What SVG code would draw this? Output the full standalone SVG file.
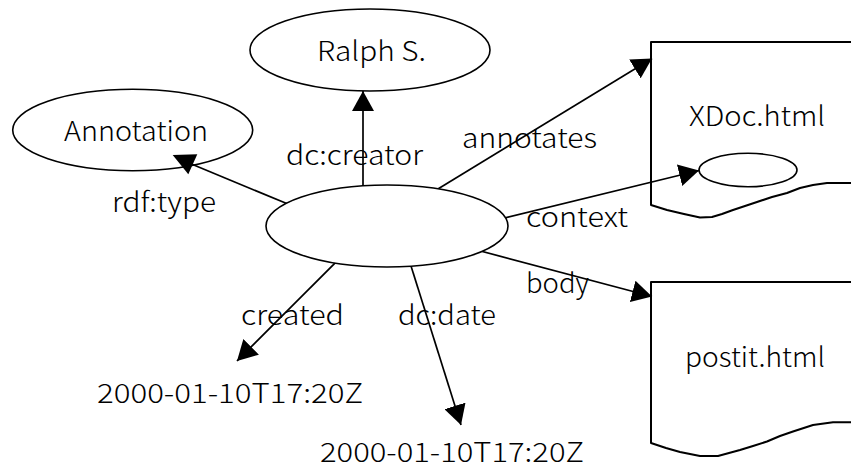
<svg xmlns="http://www.w3.org/2000/svg" width="851" height="473" viewBox="0 0 851 473">
  <defs>
    <style>
      .bg { fill: #ffffff; }
      .node { fill: #ffffff; stroke: #000000; stroke-width: 1.6; }
      .doc { fill: #ffffff; stroke: #000000; stroke-width: 2; stroke-linejoin: round; }
      .edge { fill: none; stroke: #000000; stroke-width: 1.7; }
      .arrowed { marker-end: url(#arrow); }
      .head { fill: #000000; }
      text { font-family: "Noto Sans CJK JP", "Liberation Sans", sans-serif; font-size: 27px; font-weight: 300; fill: #000000; }
    </style>
    <marker id="arrow" viewBox="0 0 20 22" refX="20" refY="11" markerWidth="20" markerHeight="22" markerUnits="userSpaceOnUse" orient="auto">
      <path d="M0,0 L20,11 L0,22 z" fill="#000000"/>
    </marker>
  </defs>

  <rect class="bg" x="0" y="0" width="851" height="473"/>

  <!-- web documents (torn-edge pages running off the right side) -->
  <g id="node-xdoc">
    <path class="doc" d="M851,42 L651,42 L651,205 L667,210 L684,214 L700,217.5 L712,217 L722,214 L733,210 L745,206 L757,202 L772,197 L787,193 L800,188 L813,185 L827,183 L851,183"/>
    <text x="689" y="126" textLength="136" lengthAdjust="spacingAndGlyphs">XDoc.html</text>
  </g>
  <g id="node-postit">
    <path class="doc" d="M851,282 L651,282 L651,443 L666,448 L680,452 L700,456 L718,456 L729,453 L740,450 L753,446 L767,441.5 L780,436 L793,431.5 L813,425 L833,422.3 L851,422.3"/>
    <text x="685" y="367" textLength="140" lengthAdjust="spacingAndGlyphs">postit.html</text>
  </g>

  <!-- class node sits under the rdf:type arrowhead -->
  <g id="node-annotation-class">
    <ellipse class="node" cx="132.7" cy="130" rx="120" ry="40.7"/>
    <text x="64" y="141" textLength="144" lengthAdjust="spacingAndGlyphs">Annotation</text>
  </g>

  <!-- properties of the annotation resource -->
  <g id="connectors">
    <g id="edge-type">
      <path class="edge" d="M288.5,204.3 L189,163"/>
      <polygon class="head" points="172.7,155 197.3,154.3 188.3,174.3"/>
    </g>
    <path id="edge-creator" class="edge arrowed" d="M363,191 L363,91"/>
    <path id="edge-annotates" class="edge arrowed" d="M437.9,189.1 L652,58.5"/>
    <path id="edge-context" class="edge arrowed" d="M501.2,218.9 L699,170.5"/>
    <path id="edge-body" class="edge arrowed" d="M469.2,248 L652,296.5"/>
    <path id="edge-created" class="edge arrowed" d="M336.2,261.8 L237,361"/>
    <path id="edge-date" class="edge arrowed" d="M409.2,260.3 L461,425"/>
  </g>

  <!-- resources -->
  <g id="node-ralph">
    <ellipse class="node" cx="370" cy="50" rx="120" ry="41"/>
    <text x="317" y="61" textLength="109" lengthAdjust="spacingAndGlyphs">Ralph S.</text>
  </g>
  <g id="node-annotation">
    <ellipse class="node" cx="387" cy="226" rx="121" ry="41"/>
  </g>
  <g id="node-context">
    <ellipse class="node" cx="748" cy="170" rx="49" ry="16.7"/>
  </g>

  <!-- literal values -->
  <g id="node-created-value">
    <text x="97" y="403" textLength="266" lengthAdjust="spacingAndGlyphs">2000-01-10T17:20Z</text>
  </g>
  <g id="node-date-value">
    <text x="320" y="462" textLength="264" lengthAdjust="spacingAndGlyphs">2000-01-10T17:20Z</text>
  </g>

  <!-- property names -->
  <g id="edge-labels">
    <text x="112" y="212" textLength="104" lengthAdjust="spacingAndGlyphs">rdf:type</text>
    <text x="286" y="165" textLength="137" lengthAdjust="spacingAndGlyphs">dc:creator</text>
    <text x="462" y="148" textLength="135" lengthAdjust="spacingAndGlyphs">annotates</text>
    <text x="526" y="227" textLength="102" lengthAdjust="spacingAndGlyphs">context</text>
    <text x="526" y="292.5" textLength="63" lengthAdjust="spacingAndGlyphs">body</text>
    <text x="241" y="325" textLength="103" lengthAdjust="spacingAndGlyphs">created</text>
    <text x="398" y="325" textLength="98" lengthAdjust="spacingAndGlyphs">dc:date</text>
  </g>
</svg>
